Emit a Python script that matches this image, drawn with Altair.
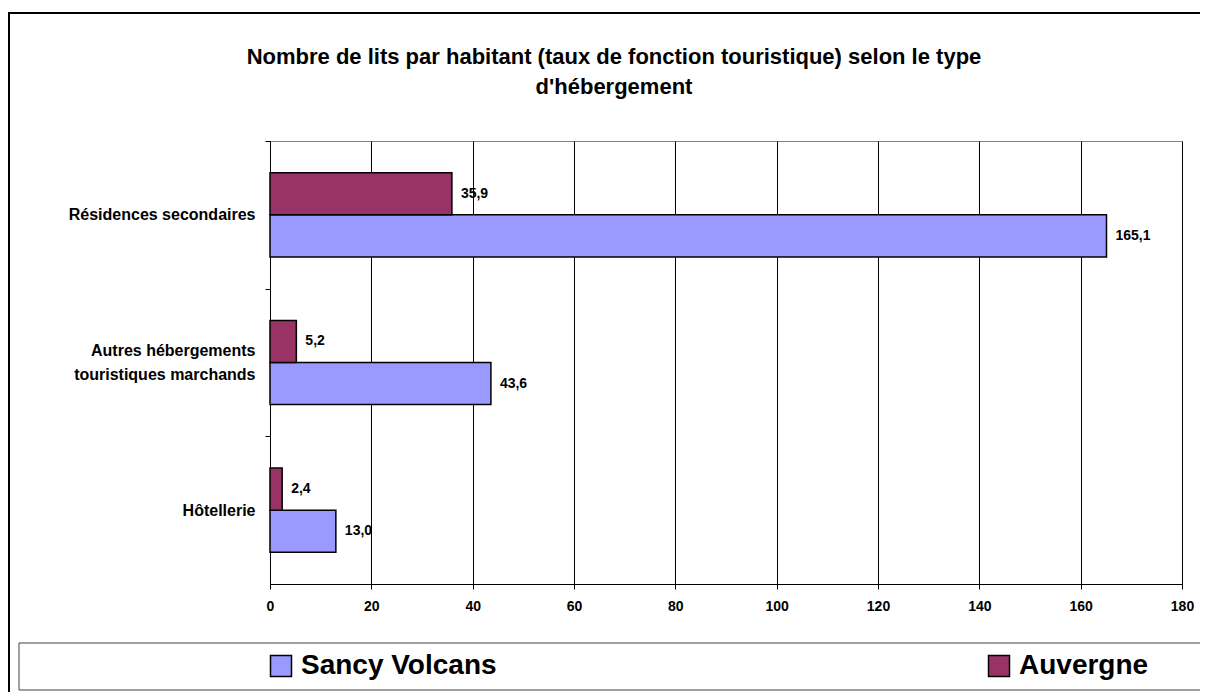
import altair as alt
import pandas as pd

categories = ["Résidences secondaires", "Autres hébergements\ntouristiques marchands", "Hôtellerie"]
series = ["Sancy Volcans", "Auvergne"]
sancy = [165.1, 43.6, 13.0]
auvergne = [35.9, 5.2, 2.4]
x_ticks = [0, 20, 40, 60, 80, 100, 120, 140, 160, 180]
colors = ["#9999FF", "#993366"]

rows = []
for c, s, a in zip(categories, sancy, auvergne):
    rows.append({"cat": c, "series": "Sancy Volcans", "value": s, "label": f"{s:.1f}".replace(".", ",")})
    rows.append({"cat": c, "series": "Auvergne", "value": a, "label": f"{a:.1f}".replace(".", ",")})
df = pd.DataFrame(rows)

FONT = "Liberation Sans"
W, H = 912, 443
step = H / 3
LH = 24

base = alt.Chart(df).encode(
    y=alt.Y("cat:N", sort=categories,
            scale=alt.Scale(paddingInner=0.43, paddingOuter=0.215),
            axis=alt.Axis(title=None, labelExpr="split(datum.label, '\\n')",
                          tickOffset=-step / 2,
                          labelOffset={"condition": {"test": "indexof(datum.value, '\\n') >= 0",
                                                     "value": step / 2 - LH / 2},
                                       "value": step / 2},
                          labelFont=FONT, labelFontSize=16, labelFontWeight="bold",
                          labelColor="black", labelPadding=10, labelLineHeight=LH,
                          labelLimit=300,
                          tickColor="black", tickSize=5, domainColor="black", grid=False)),
    yOffset=alt.YOffset("series:N", sort=["Auvergne", "Sancy Volcans"]),
)

xenc = alt.X("value:Q", scale=alt.Scale(domain=[0, 180], nice=False),
             axis=alt.Axis(title=None, values=x_ticks, grid=True, gridColor="black",
                           gridWidth=1, gridOpacity=1, tickColor="black", tickSize=5,
                           domainColor="black", labelFont=FONT, labelFontSize=14,
                           labelFontWeight="bold", labelColor="black", labelPadding=10,
                           labelFlush=False))

bars = base.mark_bar(stroke="black", strokeWidth=1.5).encode(
    x=xenc,
    color=alt.Color("series:N",
                    scale=alt.Scale(domain=series, range=colors),
                    legend=alt.Legend(title=None, orient="none", legendX=-3, legendY=511,
                                      direction="horizontal", symbolType="square",
                                      symbolSize=441, symbolStrokeColor="black",
                                      symbolStrokeWidth=1.5, symbolOpacity=1,
                                      labelFont=FONT, labelFontSize=28,
                                      labelFontWeight="bold", labelColor="black",
                                      labelOffset=6, labelLimit=400,
                                      columnPadding=488, padding=0)),
)

labels = base.mark_text(align="left", baseline="middle", dx=9, font=FONT,
                        fontSize=14, fontWeight="bold", color="black").encode(
    x=alt.X("value:Q"),
    text="label:N",
)

frame_df = pd.DataFrame({"k": [0]})
outer = alt.Chart(frame_df).mark_rect(fill=None, stroke="black", strokeWidth=2).encode(
    x=alt.value(-261), x2=alt.value(1000), y=alt.value(-128), y2=alt.value(700))
legend_box = alt.Chart(frame_df).mark_rect(fill=None, stroke="#404040", strokeWidth=1).encode(
    x=alt.value(-251), x2=alt.value(1000), y=alt.value(502), y2=alt.value(549))

chart = alt.layer(outer, legend_box, bars, labels).properties(
    width=W, height=H,
    title=alt.TitleParams(
        ["Nombre de lits par habitant (taux de fonction touristique) selon le type",
         "d'hébergement"],
        font=FONT, fontSize=22, fontWeight="bold", color="black", frame="group",
        anchor="middle", dx=-112, offset=-87, lineHeight=30),
    padding={"left": 262, "top": 133, "right": 18, "bottom": 108},
    autosize=alt.AutoSizeParams(type="none"),
).configure_view(stroke="#808080", strokeWidth=1)

chart.save("out.html", embed_options={"renderer": "svg", "actions": False})
